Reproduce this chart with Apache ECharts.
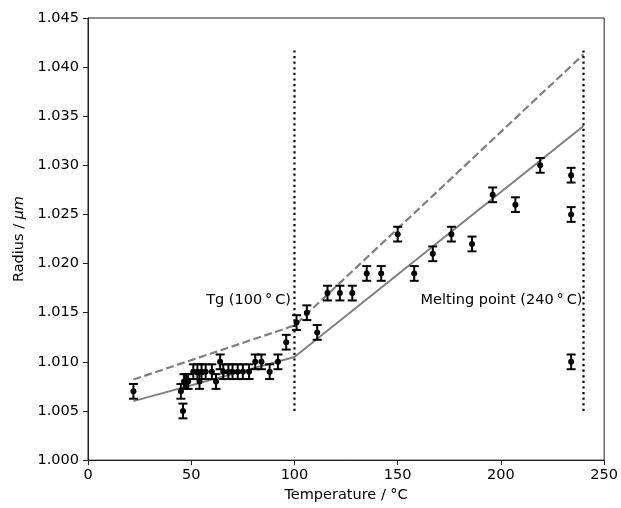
<!DOCTYPE html>
<html>
<head>
<meta charset="utf-8">
<script src="https://cdn.jsdelivr.net/npm/echarts@6/dist/echarts.min.js"></script>
<style>
	html, body { margin: 0; padding: 0; background: #fff; }
	#chart { width: 621px; height: 508px; }
</style>
</head>
<body>
<div id="chart"></div>
<script>
// Measured points (temperature in °C, radius in µm)
const temps = [
	22, 45, 46, 46.5, 47.5, 48.5, 51, 53, 54, 55, 57, 60, 62, 64, 65.5, 68, 70, 72.5, 75, 78,
	81, 84, 88, 92, 96, 101, 106, 111, 116, 122, 128, 135, 142, 150, 158, 167, 176, 186,
	196, 207, 219, 234, 234, 234
];
const radii = [
	1.007, 1.007, 1.005, 1.008, 1.008, 1.008, 1.009, 1.009, 1.008, 1.009, 1.009, 1.009, 1.008,
	1.010, 1.009, 1.009, 1.009, 1.009, 1.009, 1.009, 1.010, 1.010, 1.009, 1.010, 1.012, 1.014,
	1.015, 1.013, 1.017, 1.017, 1.017, 1.019, 1.019, 1.023, 1.019, 1.021, 1.023, 1.022, 1.027,
	1.026, 1.030, 1.029, 1.025, 1.010
];
const radiusErr = 0.00075;

// Fitted lines, kinked at Tg
const fitTemps = [22, 100, 240];
const fitSolid = [1.006, 1.0105, 1.034];
const fitDashed = [1.0082, 1.0137, 1.0413];

// Vertical markers
const markerTemps = [100, 240];
const markerRange = [1.005, 1.042];
const markerLabels = ['Tg (100\u2009°\u2009C)', 'Melting point (240\u2009°\u2009C)'];
const labelTemps = [98.3, 239.5];
const labelRadius = 1.0163;

const xTicks = { min: 0, max: 250, interval: 50 };
const yTicks = { min: 1.0, max: 1.045, interval: 0.005 };

const font = 'DejaVu Sans';
const axisColor = '#222';

const chart = echarts.init( document.getElementById( 'chart' ), null, { renderer: 'canvas' } );

const points = temps.map( ( t, i ) => [ t, radii[ i ] ] );
const errBars = temps.map( ( t, i ) => [ t, radii[ i ] - radiusErr, radii[ i ] + radiusErr ] );

const renderErrBar = ( params, api ) => {
	const x = api.value( 0 );
	const lo = api.coord( [ x, api.value( 1 ) ] );
	const hi = api.coord( [ x, api.value( 2 ) ] );
	const w = 4.5;
	const style = { stroke: '#000', lineWidth: 2 };
	return {
		type: 'group',
		children: [
			{ type: 'line', shape: { x1: lo[ 0 ], y1: lo[ 1 ], x2: hi[ 0 ], y2: hi[ 1 ] }, style },
			{ type: 'line', shape: { x1: lo[ 0 ] - w, y1: lo[ 1 ], x2: lo[ 0 ] + w, y2: lo[ 1 ] }, style },
			{ type: 'line', shape: { x1: hi[ 0 ] - w, y1: hi[ 1 ], x2: hi[ 0 ] + w, y2: hi[ 1 ] }, style }
		]
	};
};

const axisCommon = {
	type: 'value',
	splitLine: { show: false },
	axisLine: { show: true, lineStyle: { color: axisColor, width: 1 } },
	axisTick: { show: true, inside: false, length: 5, lineStyle: { color: axisColor, width: 1 } },
	nameLocation: 'middle',
	nameTextStyle: { fontFamily: font, fontSize: 14.5, color: '#000' }
};

const markerSeries = markerTemps.map( ( t ) => ( {
	type: 'line',
	data: markerRange.map( ( r ) => [ t, r ] ),
	symbol: 'none',
	silent: true,
	lineStyle: { color: '#000', width: 2.2, type: [ 2.2, 3.4 ] },
	z: 3
} ) );

chart.setOption( {
	animation: false,
	backgroundColor: '#fff',
	grid: {
		left: 88, right: 16, top: 18, bottom: 43,
		show: true, borderColor: axisColor, borderWidth: 1
	},
	xAxis: Object.assign( {}, axisCommon, xTicks, {
		name: 'Temperature / °C',
		nameGap: 24,
		axisLabel: { fontFamily: font, fontSize: 14.5, color: '#000', margin: 8 }
	} ),
	yAxis: Object.assign( {}, axisCommon, yTicks, {
		name: '{n|Radius / }{i|μm}',
		nameGap: 60,
		nameTextStyle: {
			fontFamily: font, fontSize: 14.5, color: '#000',
			rich: {
				n: { fontFamily: font, fontSize: 14.5, color: '#000' },
				i: { fontFamily: font, fontSize: 14.5, fontStyle: 'italic', color: '#000' }
			}
		},
		axisLabel: {
			fontFamily: font, fontSize: 14.5, color: '#000', margin: 9,
			formatter: ( v ) => v.toFixed( 3 )
		}
	} ),
	series: [
		{
			type: 'line',
			data: fitTemps.map( ( t, i ) => [ t, fitDashed[ i ] ] ),
			symbol: 'none',
			silent: true,
			lineStyle: { color: '#808080', width: 2.2, type: [ 8, 3.5 ] },
			z: 2
		},
		{
			type: 'line',
			data: fitTemps.map( ( t, i ) => [ t, fitSolid[ i ] ] ),
			symbol: 'none',
			silent: true,
			lineStyle: { color: '#808080', width: 2 },
			z: 2
		},
		...markerSeries,
		{
			type: 'custom',
			data: errBars,
			renderItem: renderErrBar,
			encode: { x: 0, y: [ 1, 2 ] },
			silent: true,
			z: 4
		},
		{
			type: 'scatter',
			data: points,
			symbol: 'circle',
			symbolSize: 6,
			itemStyle: { color: '#000', opacity: 1 },
			silent: true,
			z: 5
		},
		{
			type: 'scatter',
			data: labelTemps.map( ( t, i ) => ( { value: [ t, labelRadius ], name: markerLabels[ i ] } ) ),
			symbolSize: 0,
			silent: true,
			itemStyle: { opacity: 1 },
			label: {
				show: true,
				position: 'left',
				distance: 0,
				formatter: ( p ) => p.name,
				fontFamily: font,
				fontSize: 14.5,
				color: '#000'
			},
			z: 6
		}
	]
} );
</script>
</body>
</html>
